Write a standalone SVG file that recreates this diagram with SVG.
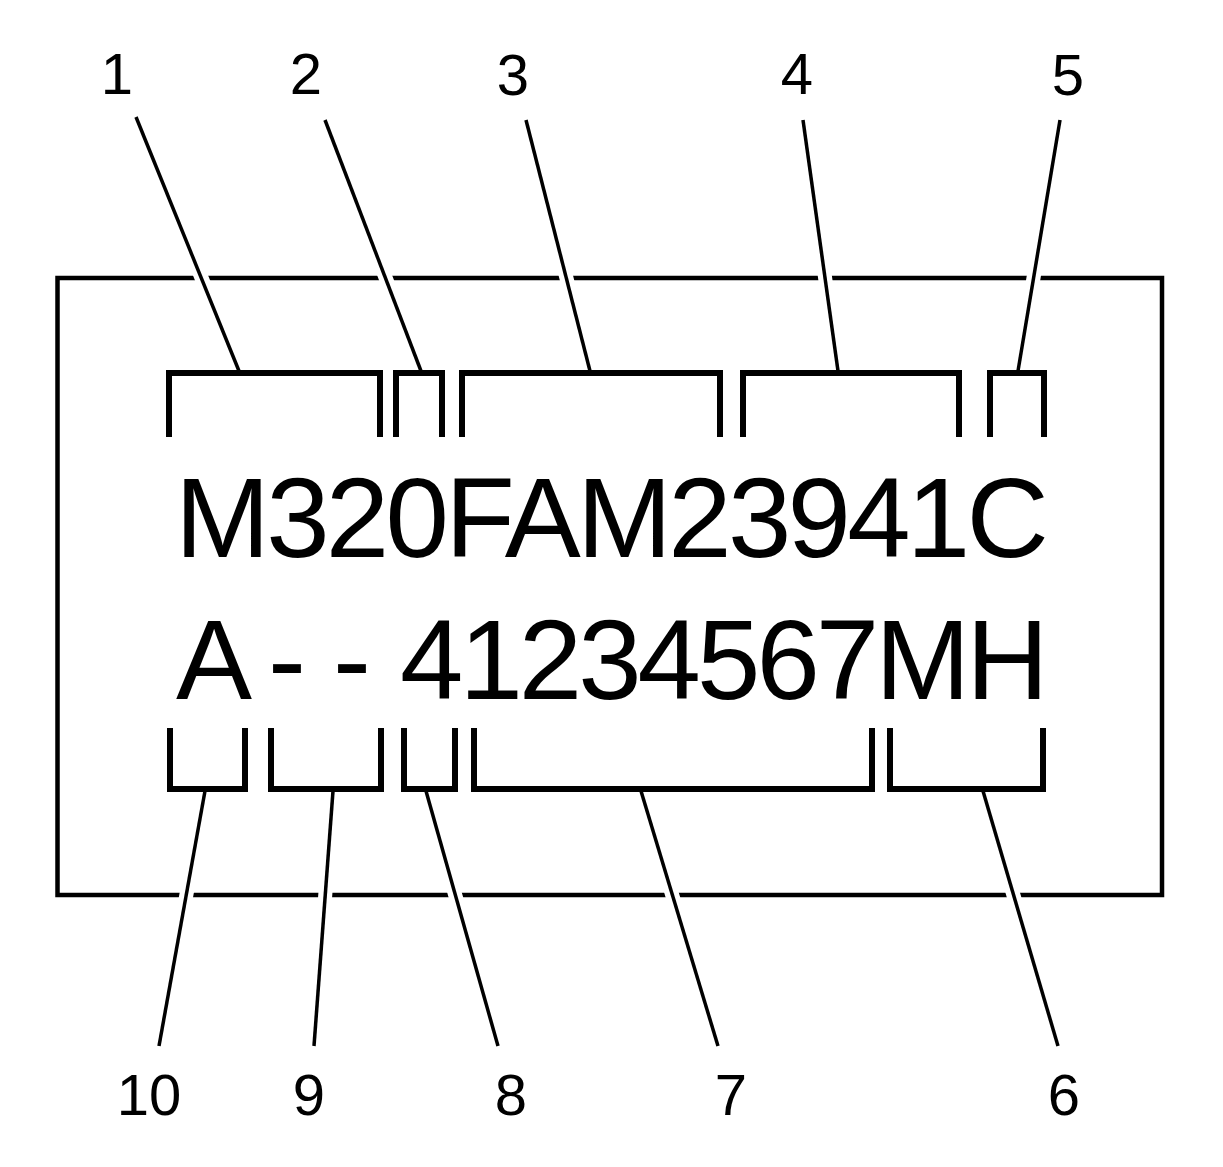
<svg xmlns="http://www.w3.org/2000/svg" width="1223" height="1167" viewBox="0 0 1223 1167">
  <style>
    .frame { fill: none; stroke: #000; stroke-width: 4.5; stroke-linejoin: miter; }
    .br { fill: none; stroke: #000; stroke-width: 6; stroke-linejoin: miter; stroke-linecap: butt; }
    .ld { fill: none; stroke: #000; stroke-width: 3.5; stroke-linecap: butt; }
    .halo { fill: none; stroke: #fff; stroke-width: 14; stroke-linecap: butt; }
    .lbl { font-family: "Liberation Sans", Arial, Helvetica, sans-serif; font-size: 58px; fill: #000; text-anchor: middle; }
    .code { font-family: "Liberation Sans", Arial, Helvetica, sans-serif; font-size: 114px; fill: #000; }
  </style>
  <rect width="1223" height="1167" fill="#fff"/>

  <g id="frame">
    <rect class="frame" x="57.5" y="278" width="1104.5" height="617"/>
  </g>

  <g id="code-line-1">
    <text class="code" x="175" y="557" letter-spacing="-3.75">M320FAM23941C</text>
  </g>
  <g id="code-line-2">
    <text class="code" x="176" y="699"><tspan>A</tspan> <tspan x="268">-</tspan> <tspan x="333">-</tspan> <tspan x="400" letter-spacing="-4">41234567MH</tspan></text>
  </g>

  <g id="callout-1">
    <text class="lbl" x="117" y="94">1</text>
    <path class="br" d="M169,437 V373 H380 V437"/>
  </g>
  <g id="callout-2">
    <text class="lbl" x="306" y="94">2</text>
    <path class="br" d="M396,437 V373 H442 V437"/>
  </g>
  <g id="callout-3">
    <text class="lbl" x="513" y="95">3</text>
    <path class="br" d="M462,437 V373 H720 V437"/>
  </g>
  <g id="callout-4">
    <text class="lbl" x="797" y="94">4</text>
    <path class="br" d="M743,437 V373 H959 V437"/>
  </g>
  <g id="callout-5">
    <text class="lbl" x="1068" y="95">5</text>
    <path class="br" d="M990,437 V373 H1044 V437"/>
  </g>
  <g id="callout-6">
    <text class="lbl" x="1064" y="1115">6</text>
    <path class="br" d="M890,728 V789 H1043 V728"/>
  </g>
  <g id="callout-7">
    <text class="lbl" x="731" y="1115">7</text>
    <path class="br" d="M474,728 V789 H872 V728"/>
  </g>
  <g id="callout-8">
    <text class="lbl" x="511" y="1115">8</text>
    <path class="br" d="M404,728 V789 H455 V728"/>
  </g>
  <g id="callout-9">
    <text class="lbl" x="309" y="1115">9</text>
    <path class="br" d="M271,728 V789 H381 V728"/>
  </g>
  <g id="callout-10">
    <text class="lbl" x="149" y="1115">10</text>
    <path class="br" d="M170,728 V789 H245 V728"/>
  </g>

  <g id="connectors">
    <path class="halo" d="M190.2,250 L214.6,310 M374.9,250 L398,310 M559.3,250 L574.6,310 M821.2,250 L829.6,310 M1038.2,250 L1028.1,310 M191.8,865 L180.9,925 M327.5,865 L323,925 M446.7,865 L463.7,925 M663.1,865 L681.3,925 M1004.5,865 L1022.3,925"/>
    <line class="ld" x1="136" y1="117" x2="239" y2="371"/>
    <line class="ld" x1="325" y1="120" x2="421" y2="371"/>
    <line class="ld" x1="526" y1="120" x2="590" y2="371"/>
    <line class="ld" x1="803" y1="120" x2="838" y2="371"/>
    <line class="ld" x1="1060" y1="120" x2="1018" y2="371"/>
    <line class="ld" x1="205" y1="791" x2="159" y2="1046"/>
    <line class="ld" x1="333" y1="791" x2="314" y2="1046"/>
    <line class="ld" x1="426" y1="791" x2="498" y2="1046"/>
    <line class="ld" x1="641" y1="791" x2="718" y2="1046"/>
    <line class="ld" x1="983" y1="791" x2="1058" y2="1046"/>
  </g>
</svg>
